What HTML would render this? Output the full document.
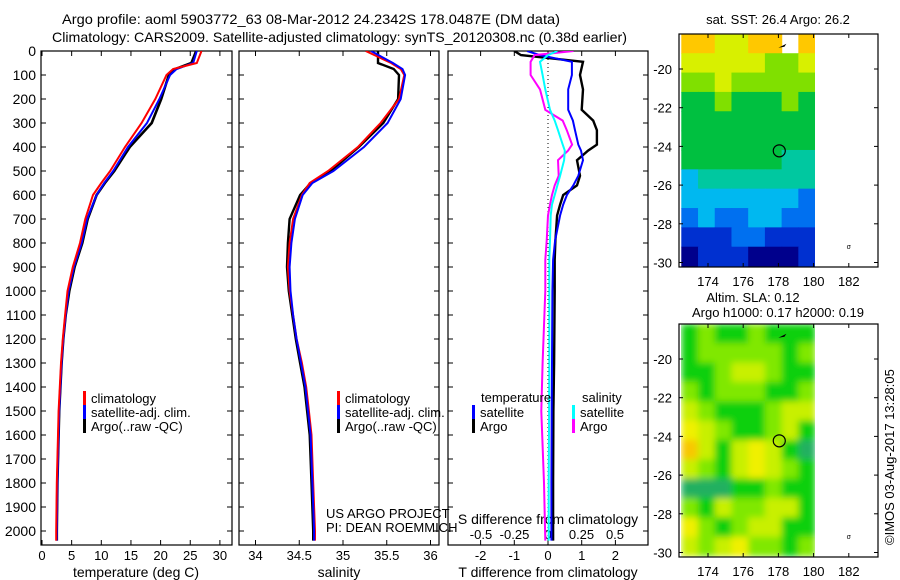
<!DOCTYPE html>
<html><head><meta charset="utf-8">
<style>
body{margin:0;background:#fff;}
svg{display:block;font-family:"Liberation Sans",sans-serif;font-size:13px;}
</style></head>
<body>
<svg id="fig" width="900" height="580" viewBox="0 0 900 580">
<defs>
<clipPath id="c1"><rect x="41" y="51" width="191" height="494"/></clipPath>
<clipPath id="c2"><rect x="239" y="51" width="200" height="494"/></clipPath>
<clipPath id="c3"><rect x="448" y="51" width="200" height="494"/></clipPath>
<clipPath id="cm1"><rect x="681" y="34" width="134" height="233"/></clipPath>
<clipPath id="cm2"><rect x="681" y="324" width="134" height="233"/></clipPath>
<filter id="blur" x="0" y="0" width="1" height="1"><feGaussianBlur stdDeviation="3.5"/></filter>
</defs>
<text x="62" y="24" textLength="498" lengthAdjust="spacingAndGlyphs" font-size="14">Argo profile: aoml 5903772_63 08-Mar-2012 24.2342S 178.0487E (DM data)</text>
<text x="52" y="42" textLength="575" lengthAdjust="spacingAndGlyphs" font-size="14">Climatology: CARS2009. Satellite-adjusted climatology: synTS_20120308.nc (0.38d earlier)</text>
<g id="root"></g>
<text transform="translate(894,545) rotate(-90)">©IMOS 03-Aug-2017 13:28:05</text>
</svg>
<script>
const NS='http://www.w3.org/2000/svg';
const root=document.getElementById('root');
function mk(tag,attrs,parent,txt){const e=document.createElementNS(NS,tag);for(const k in attrs)e.setAttribute(k,attrs[k]);if(txt!==undefined)e.textContent=txt;(parent||root).appendChild(e);return e;}

// ---- data ----
const depths=[0,50,75,100,200,300,400,500,550,600,700,800,900,1000,1100,1200,1300,1400,1500,1600,1800,2000,2040];
const tempClim=[26.9,26.1,22.1,21.0,19.1,16.8,14.0,11.5,10.0,8.6,7.3,6.4,5.2,4.3,3.9,3.5,3.2,3.0,2.8,2.7,2.5,2.4,2.4];
const tempSat =[26.1,25.5,22.7,21.6,19.8,17.7,14.5,12.0,10.5,9.2,7.6,6.7,5.4,4.5,4.0,3.6,3.3,3.1,2.9,2.8,2.6,2.5,2.5];
const tempArgo=[26.0,25.2,22.5,21.4,20.1,18.5,14.8,12.2,10.6,9.2,7.7,6.8,5.5,4.6,4.0,3.6,3.3,3.1,2.9,2.8,2.6,2.5,2.5];
const salClim=[35.26,35.55,35.66,35.70,35.64,35.43,35.17,34.83,34.62,34.53,34.43,34.39,34.37,34.39,34.43,34.47,34.53,34.58,34.61,34.64,34.66,34.68,34.68];
const salSat =[35.32,35.57,35.68,35.71,35.66,35.51,35.24,34.89,34.65,34.54,34.45,34.41,34.39,34.40,34.43,34.47,34.52,34.57,34.60,34.63,34.65,34.67,34.67];
const salArgo=[35.40,35.40,35.58,35.64,35.63,35.46,35.18,34.86,34.63,34.51,34.39,34.37,34.36,34.38,34.42,34.46,34.51,34.56,34.59,34.62,34.64,34.66,34.66];
const diffDepths=[0,17,45,100,160,245,290,330,390,415,455,520,560,600,640,685,790,870,1000,1300,1500,1800,2040];
const dTArgo=[-1.0,-0.8,1.04,0.95,1.04,1.0,1.34,1.45,1.45,1.19,0.86,0.95,0.86,0.45,0.36,0.27,0.22,0.2,0.2,0.18,0.16,0.15,0.15];
const dTSat =[-0.62,-0.24,0.71,0.71,0.6,0.6,0.74,0.8,0.9,0.98,1.04,0.9,0.75,0.56,0.45,0.36,0.21,0.15,0.13,0.12,0.11,0.1,0.1];
const dSArgo=[0.19,-0.1,-0.13,-0.13,-0.06,-0.02,0.11,0.14,0.18,0.15,0.075,0.08,0.05,0.03,0.015,0.0,-0.01,-0.02,-0.02,-0.04,-0.05,-0.03,-0.02];
const dSSat =[0.07,0.0,-0.06,-0.04,-0.02,0.015,0.05,0.075,0.11,0.125,0.12,0.09,0.07,0.05,0.03,0.02,0.015,0.01,0.01,0.01,0.008,0.005,0.005];
const tTicks=[0,5,10,15,20,25,30];
const sTicks=[34,34.5,35,35.5,36];
const dTTicks=[-2,-1,0,1,2];
const dSTicks=[-0.5,-0.25,0,0.25,0.5];
const dSTickLabels=['-0.5','-0.25','0','0.25','0.5'];
const depthTicks=[0,100,200,300,400,500,600,700,800,900,1000,1100,1200,1300,1400,1500,1600,1700,1800,1900,2000];
const lonTicks=[174,176,178,180,182];
const latTicks=[-20,-22,-24,-26,-28,-30];
const sstGrid=[
[8,8,7,7,8,8,-1,8],
[7,7,7,7,7,6,6,7],
[6,6,7,6,6,6,6,6],
[5,5,6,5,5,5,6,5],
[5,5,5,5,5,5,5,5],
[5,5,5,5,5,5,5,5],
[5,5,5,5,5,5,4,4],
[3,4,4,4,4,4,4,4],
[3,3,3,3,3,3,3,2],
[2,3,2,2,3,3,2,2],
[1,1,1,2,2,1,1,1],
[0,1,1,1,0,0,0,1]];
const slaGrid=[
[1,2,1,1,2,1,1,1],
[1,2,2,2,2,2,1,2],
[1,1,2,3,3,2,1,1],
[2,1,2,2,2,1,1,2],
[3,2,1,1,1,2,3,3],
[4,3,2,1,1,2,3,1],
[5,3,1,3,4,3,1,0],
[3,2,1,3,4,3,2,1],
[0,0,0,1,1,2,1,1],
[2,1,3,2,2,3,3,1],
[4,2,1,2,3,3,1,1],
[3,2,3,4,2,2,1,2]];
const sstPal=['#00008c','#0030d0','#0070f0','#00b8f0','#00c8a0','#00c040','#80e000','#d8f000','#ffc800'];
const slaPal=['#20b060','#10d010','#80e800','#c8f000','#f0f000','#f8c800'];

// ---- scales ----
const y=d=>51+d*0.24;
const tX=t=>42+t*5.93;
const sX=s=>255.5+(s-34)*87.5;
const dtX=v=>548+v*33.7;
const dsX=v=>548+v*134;
const lonX=l=>708+(l-174)*17.6;
const latY1=la=>69+(-20-la)*19.35;
const latY2=la=>359+(-20-la)*19.35;

function panel(x0,w,name){
  const g=mk('g',{});
  
  
  mk('rect',{x:x0,y:51,width:w,height:494,fill:'none',stroke:'#000','stroke-width':1.2},g);
  depthTicks.forEach(d=>{const yy=y(d);
    mk('line',{x1:x0,x2:x0+5,y1:yy,y2:yy,stroke:'#000'},g);
    mk('line',{x1:x0+w-5,x2:x0+w,y1:yy,y2:yy,stroke:'#000'},g);});
  return g;
}
function xticks(g,ticks,fx,labels,ylab){
  ticks.forEach((t,i)=>{const xx=fx(t);
    mk('line',{x1:xx,x2:xx,y1:545,y2:540,stroke:'#000'},g);
    mk('line',{x1:xx,x2:xx,y1:51,y2:56,stroke:'#000'},g);
    const tx=mk('text',{x:xx,y:ylab,'text-anchor':'middle'},g,labels?labels[i]:String(t));
    
    });
}
function line(g,xs,ds,fx,col,w,clip,name){
  const pts=xs.map((v,i)=>fx(v).toFixed(1)+','+y(ds[i]).toFixed(1)).join(' ');
  const p=mk('polyline',{points:pts,fill:'none',stroke:col,'stroke-width':w,'clip-path':'url(#'+clip+')'},g);
  
  
}
function legend(g,x,y0,items){
  items.forEach((it,i)=>{const yy=y0+i*14;
    mk('rect',{x:x,y:yy-7,width:3,height:14,fill:it[1]},g);
    const t=mk('text',{x:x+8,y:yy+5},g,it[0]);
    
    });
}

const g1=panel(41,191,'temperature-panel');
depthTicks.forEach(d=>{const t=mk('text',{x:36,y:y(d)+5,'text-anchor':'end','font-size':'14'},g1,String(d));
  
  });
xticks(g1,tTicks,tX,null,560);
mk('text',{x:136,y:577,'text-anchor':'middle','font-size':'14'},g1,'temperature (deg C)');
line(g1,tempArgo,depths,tX,'#000',2.6,'c1','temp-argo-line');
line(g1,tempSat,depths,tX,'#0000ff',2,'c1','temp-satellite-line');
line(g1,tempClim,depths,tX,'#ff0000',2,'c1','temp-climatology-line');
legend(g1,83,398,[['climatology','#ff0000'],['satellite-adj. clim.','#0000ff'],['Argo(..raw -QC)','#000']]);

const g2=panel(239,200,'salinity-panel');
xticks(g2,sTicks,sX,null,560);
mk('text',{x:339,y:577,'text-anchor':'middle','font-size':'14'},g2,'salinity');
line(g2,salArgo,depths,sX,'#000',2.4,'c2','sal-argo-line');
line(g2,salClim,depths,sX,'#ff0000',2,'c2','sal-climatology-line');
line(g2,salSat,depths,sX,'#0000ff',2,'c2','sal-satellite-line');
legend(g2,337,398,[['climatology','#ff0000'],['satellite-adj. clim.','#0000ff'],['Argo(..raw -QC)','#000']]);
mk('text',{x:326,y:518},g2,'US ARGO PROJECT');
mk('text',{x:326,y:532},g2,'PI: DEAN ROEMMICH');

const g3=panel(448,200,'difference-panel');
xticks(g3,dTTicks,dtX,null,560);
mk('text',{x:548,y:577,'text-anchor':'middle','font-size':'14'},g3,'T difference from climatology');
dSTicks.forEach((t,i)=>{const tx=mk('text',{x:dsX(t),y:539,'text-anchor':'middle'},g3,dSTickLabels[i]);
  
  });
mk('text',{x:548,y:524,'text-anchor':'middle','font-size':'14'},g3,'S difference from climatology');
mk('line',{x1:548,x2:548,y1:51,y2:545,stroke:'#000','stroke-dasharray':'1,3'},g3);
line(g3,dTArgo,diffDepths,dtX,'#000',2.4,'c3','dT-argo-line');
line(g3,dTSat,diffDepths,dtX,'#0000ff',2,'c3','dT-satellite-line');
line(g3,dSArgo,diffDepths,dsX,'#ff00ff',2,'c3','dS-argo-line');
line(g3,dSSat,diffDepths,dsX,'#00ffff',2,'c3','dS-satellite-line');
mk('text',{x:481,y:402},g3,'temperature');
mk('text',{x:582,y:402},g3,'salinity');
legend(g3,472,412,[['satellite','#0000ff'],['Argo','#000']]);
legend(g3,572,412,[['satellite','#00ffff'],['Argo','#ff00ff']]);

function map(grid,pal,latY,top,clip,name,blur){
  const g=mk('g',{});
  
  
  const lat0=-18.2,dLat=1.0,lon0=172.5,dLon=(180.1-172.5)/8;
  const cg=mk('g',{'clip-path':'url(#'+clip+')'},g);
  const ig=mk('g',blur?{filter:'url(#blur)'}:{},cg);
  grid.forEach((row,r)=>row.forEach((v,c)=>{
    if(v<0)return;
    const x1=lonX(lon0+c*dLon),x2=lonX(lon0+(c+1)*dLon);
    const y1=latY(lat0-r*dLat),y2=latY(lat0-(r+1)*dLat);
    const cell=mk('rect',{x:x1-0.3,y:y1-0.3,width:x2-x1+0.6,height:y2-y1+0.6,fill:pal[v]},ig);
    
    
  }));
  mk('rect',{x:815,y:top,width:63,height:233,fill:'#fff'},g);
  mk('rect',{x:679,y:top,width:199,height:233,fill:'none',stroke:'#000','stroke-width':1.2},g);
  lonTicks.forEach(l=>{const xx=lonX(l);
    mk('line',{x1:xx,x2:xx,y1:top,y2:top+4,stroke:'#000'},g);
    mk('line',{x1:xx,x2:xx,y1:top+233,y2:top+229,stroke:'#000'},g);
    const t=mk('text',{x:xx,y:top+252,'text-anchor':'middle'},g,String(l));
    
    });
  latTicks.forEach(la=>{const yy=latY(la);
    mk('line',{x1:679,x2:683,y1:yy,y2:yy,stroke:'#000'},g);
    mk('line',{x1:874,x2:878,y1:yy,y2:yy,stroke:'#000'},g);
    const t=mk('text',{x:672,y:yy+5,'text-anchor':'end'},g,String(la));
    
    });
  const c=mk('circle',{cx:lonX(178.05),cy:latY(-24.23),r:6,fill:'none',stroke:'#000','stroke-width':1.2},g);
  
  
  mk('path',{d:`M${lonX(178)} ${latY(-18.9)} l4 -2 l4 -2 l-2 3 z`,fill:'#000'},g);
  mk('text',{x:lonX(182),y:latY(-29.3),'font-size':'7','text-anchor':'middle'},g,'σ');
  return g;
}
map(sstGrid,sstPal,latY1,34,'cm1','sst-map',false);
map(slaGrid,slaPal,latY2,324,'cm2','sla-map',true);
mk('text',{x:778,y:24,'text-anchor':'middle'},root,'sat. SST: 26.4 Argo: 26.2');
mk('text',{x:753,y:302,'text-anchor':'middle'},root,'Altim. SLA: 0.12');
mk('text',{x:778,y:317,'text-anchor':'middle'},root,'Argo h1000: 0.17 h2000: 0.19');
</script>
</body></html>
